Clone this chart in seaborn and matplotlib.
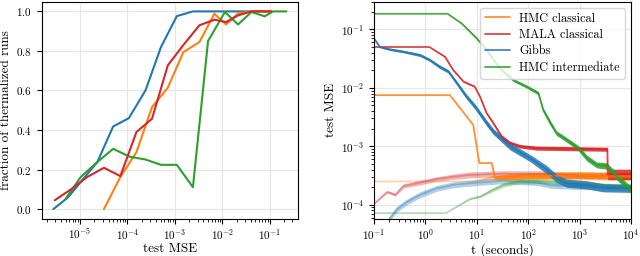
import matplotlib
matplotlib.use("Agg")
import matplotlib.pyplot as plt
import numpy as np
import seaborn as sns

# ---- left panel: fraction of thermalized runs vs test-MSE threshold ----
gibbs_thr = [2.75e-6, 5.5e-6, 1.035e-5, 2.32e-5, 5.0e-5, 1.07e-4, 2.4e-4, 5.1e-4,
             1.1e-3, 2.4e-3, 5.1e-3, 1.1e-2, 2.34e-2, 5.0e-2, 0.107]
gibbs_frac = [0.0, 0.058, 0.137, 0.238, 0.418, 0.46, 0.60, 0.82,
              0.976, 1.0, 1.0, 1.0, 1.0, 1.0, 1.0]

hmc_cl_thr = [3.2e-5, 7.1e-5, 1.55e-4, 3.3e-4, 7.1e-4, 1.51e-3, 3.3e-3, 6.8e-3,
              1.2e-2, 2.15e-2, 4.1e-2, 0.107]
hmc_cl_frac = [0.0, 0.162, 0.288, 0.516, 0.614, 0.794, 0.845, 0.988,
               0.934, 0.99, 1.0, 1.0]

mala_thr = [2.95e-6, 6.45e-6, 1.41e-5, 3.2e-5, 7.1e-5, 1.55e-4, 3.3e-4, 7.1e-4,
            1.51e-3, 3.3e-3, 6.8e-3, 1.2e-2, 2.15e-2, 4.1e-2, 0.107]
mala_frac = [0.045, 0.10, 0.162, 0.209, 0.167, 0.39, 0.457, 0.727,
             0.83, 0.93, 0.958, 0.946, 0.98, 1.0, 1.0]

hmc_int_thr = [5.0e-6, 1.035e-5, 2.32e-5, 5.0e-5, 1.12e-4, 2.4e-4, 5.1e-4, 1.1e-3,
               2.4e-3, 5.0e-3, 1.135e-2, 2.15e-2, 4.1e-2, 7.8e-2, 0.117, 0.224]
hmc_int_frac = [0.053, 0.162, 0.238, 0.305, 0.265, 0.251, 0.224, 0.224,
                0.111, 0.85, 0.997, 0.934, 0.997, 0.975, 1.0, 1.0]

# ---- right panel: test MSE vs time (solid) and faded companion curves ----
# spread = half-width of the noisy band, in decades
hmc_cl_t = [0.1, 3.0, 8.5, 11.2, 19.5, 22.6, 40, 100, 1000, 10000]
hmc_cl_mse = [0.0075, 0.0075, 0.00233, 0.000516, 0.000516, 0.00029, 0.0003,
              0.00031, 0.00032, 0.00031]
hmc_cl_spread = [0, 0, 0, 0, 0, 0.03, 0.05, 0.05, 0.06, 0.06]

mala_t = [0.1, 1.19, 2.4, 3.47, 5.5, 9.1, 11.5, 15.5, 20.9, 30.2, 44.2, 69,
          145, 3470, 3520, 10000]
mala_mse = [0.05, 0.05, 0.0341, 0.0202, 0.0128, 0.0105, 0.0071, 0.0037, 0.0025,
            0.00148, 0.00114, 0.001, 0.00093, 0.00089, 0.00033, 0.00033]
mala_spread = [0, 0, 0.01, 0.01, 0.01, 0.01, 0.01, 0.015, 0.02, 0.025, 0.03,
               0.03, 0.035, 0.035, 0.09, 0.09]

gibbs_t = [0.1, 0.13, 0.2, 0.37, 0.79, 1.2, 1.9, 2.8, 4.1, 6.3, 9.2, 15.5, 21,
           44, 108, 230, 355, 560, 1380, 2900, 10000]
gibbs_mse = [0.0702, 0.0501, 0.0457, 0.0417, 0.0363, 0.0302, 0.0229, 0.0191,
             0.0120, 0.00708, 0.00479, 0.00251, 0.00178, 0.0010, 0.00063,
             0.000398, 0.000282, 0.000234, 0.000219, 0.000195, 0.000191]
gibbs_spread = [0.01, 0.015, 0.02, 0.02, 0.025, 0.025, 0.03, 0.03, 0.035, 0.04,
                0.045, 0.05, 0.05, 0.06, 0.06, 0.07, 0.07, 0.07, 0.07, 0.07, 0.07]

hmc_int_t = [0.1, 2.7, 5.1, 10, 15.5, 28, 51, 93, 158, 195, 270, 355, 560, 940,
             1380, 2140, 3390, 4570, 6600, 10000]
hmc_int_mse = [0.185, 0.185, 0.126, 0.070, 0.0444, 0.0216, 0.0136, 0.0105,
               0.0081, 0.0042, 0.0025, 0.00168, 0.00129, 0.00093, 0.00063,
               0.00048, 0.00046, 0.00035, 0.00025, 0.00018]
hmc_int_spread = [0, 0, 0.01, 0.015, 0.02, 0.02, 0.025, 0.025, 0.03, 0.035,
                  0.04, 0.04, 0.04, 0.045, 0.05, 0.05, 0.055, 0.06, 0.06, 0.06]

# faded curves
hmc_cl_f_t = [0.1, 8, 20, 100, 1000, 10000]
hmc_cl_f_mse = [2.5e-4, 2.5e-4, 2.9e-4, 3.0e-4, 3.0e-4, 2.9e-4]
hmc_cl_f_spread = [0, 0, 0.04, 0.05, 0.05, 0.05]

mala_f_t = [0.1, 0.18, 0.26, 0.37, 0.79, 1.66, 3.5, 7.4, 32, 200, 1000, 10000]
mala_f_mse = [1.05e-4, 1.66e-4, 1.48e-4, 2.09e-4, 2.40e-4, 2.75e-4, 3.02e-4,
              3.24e-4, 3.39e-4, 3.39e-4, 3.16e-4, 3.16e-4]
mala_f_spread = [0.015, 0.02, 0.025, 0.035, 0.04, 0.04, 0.045, 0.05, 0.05, 0.05,
                 0.05, 0.05]

gibbs_f_t = [0.158, 0.2, 0.275, 0.437, 0.785, 1.66, 3.47, 7.41, 31.6, 145, 282,
             1000, 10000]
gibbs_f_mse = [3.98e-5, 5.75e-5, 8.3e-5, 1.12e-4, 1.48e-4, 1.91e-4, 2.19e-4,
               2.34e-4, 2.57e-4, 2.40e-4, 2.14e-4, 2.04e-4, 2.0e-4]
gibbs_f_spread = [0.04, 0.04, 0.05, 0.05, 0.05, 0.05, 0.05, 0.05, 0.05, 0.05,
                  0.05, 0.05, 0.05]

hmc_int_f_t = [0.1, 2.5, 7.4, 11.5, 20.9, 33, 69, 200, 1000, 10000]
hmc_int_f_mse = [7.2e-5, 7.2e-5, 1.26e-4, 1.38e-4, 1.82e-4, 2.19e-4, 2.51e-4,
                 2.51e-4, 2.29e-4, 2.0e-4]
hmc_int_f_spread = [0, 0, 0.01, 0.02, 0.03, 0.035, 0.04, 0.04, 0.04, 0.04]

C_HMC = "tab:orange"
C_MALA = "tab:red"
C_GIBBS = "tab:blue"
C_INT = "tab:green"

sns.set_theme(style="ticks")
plt.rcParams.update({
    "font.family": "serif",
    "font.serif": ["cmr10", "DejaVu Serif"],
    "mathtext.fontset": "cm",
    "axes.formatter.use_mathtext": True,
    "font.size": 9,
    "axes.labelsize": 9.5,
    "xtick.labelsize": 8,
    "ytick.labelsize": 8,
    "legend.fontsize": 8.8,
    "axes.edgecolor": "black",
    "axes.linewidth": 0.8,
    "xtick.color": "black",
    "ytick.color": "black",
    "axes.labelcolor": "black",
    "text.color": "black",
    "xtick.major.pad": 2.5,
    "axes.labelpad": 2.5,
})

fig = plt.figure(figsize=(6.4, 2.56), dpi=100)
ax1 = fig.add_axes([0.0652, 0.1445, 0.4005, 0.8496])
ax2 = fig.add_axes([0.5844, 0.1445, 0.4016, 0.8496])

# left panel
for thr, frac, c in [(gibbs_thr, gibbs_frac, C_GIBBS),
                     (hmc_cl_thr, hmc_cl_frac, C_HMC),
                     (hmc_int_thr, hmc_int_frac, C_INT),
                     (mala_thr, mala_frac, C_MALA)]:
    sns.lineplot(x=thr, y=frac, color=c, lw=1.5, ax=ax1)
ax1.set_xscale("log")
ax1.set_yticks([0.0, 0.2, 0.4, 0.6, 0.8, 1.0])
ax1.set_xlabel("test MSE", labelpad=0.5)
ax1.set_ylabel("fraction of thermalized runs", labelpad=3)
ax1.grid(True, which="major", color=".9", lw=0.8)


def band(ax, t, mse, spread, color, alpha, label=None):
    t = np.asarray(t)
    mse = np.asarray(mse)
    s = 10.0 ** np.asarray(spread)
    ax.fill_between(t, mse / s, mse * s, color=color, alpha=alpha, lw=0)
    sns.lineplot(x=t, y=mse, color=color, alpha=alpha, lw=1.3, ax=ax,
                 label=label, legend=False)


ax2.set_xscale("log")
ax2.set_yscale("log")
band(ax2, hmc_cl_f_t, hmc_cl_f_mse, hmc_cl_f_spread, C_HMC, 0.35)
band(ax2, mala_f_t, mala_f_mse, mala_f_spread, C_MALA, 0.35)
band(ax2, gibbs_f_t, gibbs_f_mse, gibbs_f_spread, C_GIBBS, 0.35)
band(ax2, hmc_int_f_t, hmc_int_f_mse, hmc_int_f_spread, C_INT, 0.35)
band(ax2, hmc_cl_t, hmc_cl_mse, hmc_cl_spread, C_HMC, 0.85, "HMC classical")
band(ax2, mala_t, mala_mse, mala_spread, C_MALA, 0.85, "MALA classical")
band(ax2, gibbs_t, gibbs_mse, gibbs_spread, C_GIBBS, 0.85, "Gibbs")
band(ax2, hmc_int_t, hmc_int_mse, hmc_int_spread, C_INT, 0.85, "HMC intermediate")
ax2.set_xlim(0.1, 1e4)
ax2.set_ylim(5.7e-5, 0.3)
ax2.set_xlabel("t (seconds)", labelpad=0.5)
ax2.set_ylabel("test MSE", labelpad=3)
ax2.grid(True, which="major", color=".9", lw=0.8)
ax2.legend(loc="upper right", frameon=True, fancybox=True, framealpha=0.8,
           edgecolor=".8", labelspacing=0.35)

for ax in (ax1, ax2):
    ax.tick_params(which="major", length=3.5, width=0.8, direction="out")
    ax.tick_params(which="minor", length=2, width=0.6, direction="out")

fig.savefig("out.png", dpi=100)
